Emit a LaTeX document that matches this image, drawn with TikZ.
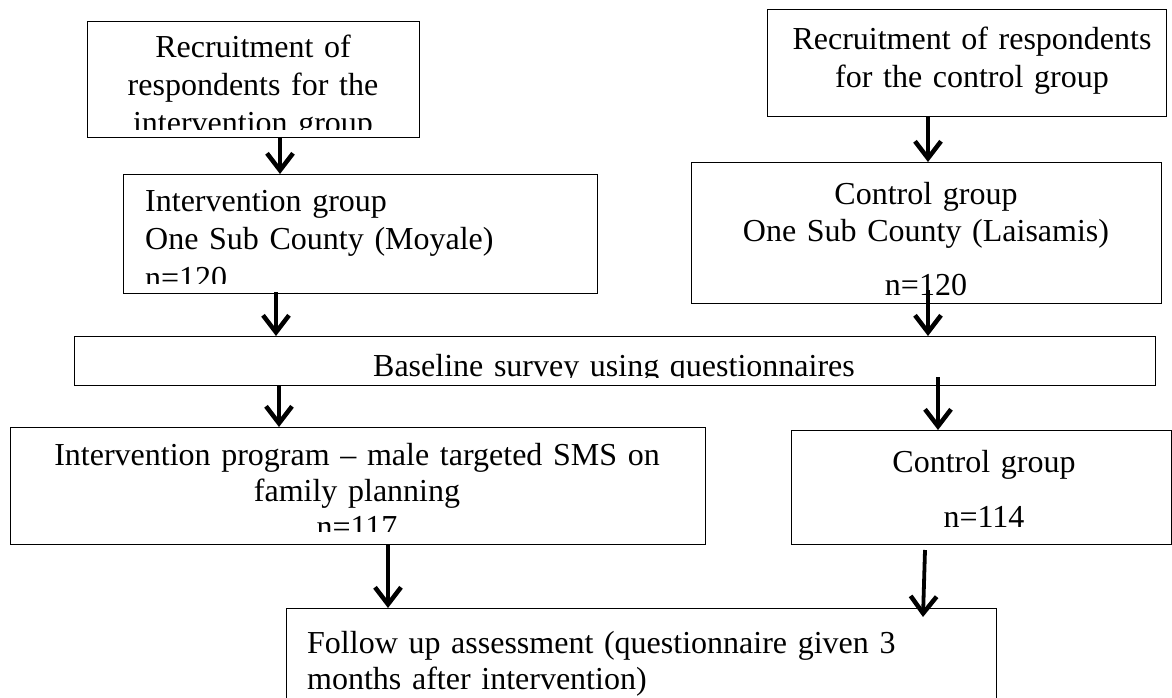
\documentclass[tikz,border=0pt]{standalone}
\usepackage{fontspec}
\setmainfont{Liberation Serif}
\usetikzlibrary{arrows.meta}
\begin{document}
\begin{tikzpicture}[x=1pt,y=-1pt,
  boxst/.style={draw=black, line width=1.3pt, fill=white, inner sep=0pt},
  txt/.style={inner sep=0pt, font=\fontsize{32}{#1}\selectfont},
  arr/.style={line width=3.8pt, -{Straight Barb[length=17pt,width=26pt,line width=4.5pt]}}
]
\useasboundingbox (0,0) rectangle (1172,698);

% boxes
\node[boxst, minimum width=332pt, minimum height=116pt, anchor=north west] (b1) at (87,21) {};
\node[boxst, minimum width=399pt, minimum height=107pt, anchor=north west] (b3) at (767,9) {};
\node[boxst, minimum width=474pt, minimum height=119pt, anchor=north west] (b2) at (123,174) {};
\node[boxst, minimum width=470pt, minimum height=141pt, anchor=north west] (b4) at (691,162) {};
\node[boxst, minimum width=1081pt, minimum height=49pt, anchor=north west] (bs) at (74,336) {};
\node[boxst, minimum width=695pt, minimum height=117pt, anchor=north west] (b5) at (10,427) {};
\node[boxst, minimum width=380pt, minimum height=114pt, anchor=north west] (b6) at (791,430) {};
\node[boxst, minimum width=710pt, minimum height=100pt, anchor=north west] (fu) at (286,608) {};

% texts
\begin{scope}
  \clip (87,21) rectangle (419,130);
  \node[txt=38, text width=330pt, align=center, anchor=base] (t1) at (253,58)
    {Recruitment of\\respondents for the\\intervention group};
\end{scope}
\node[txt=38, text width=400pt, align=center, anchor=base] (t3) at (972,50)
  {Recruitment of respondents\\for the control group};
\begin{scope}
  \clip (123,174) rectangle (597,283);
  \node[txt=38.5, text width=440pt, align=left, anchor=base west] (t2) at (145,211)
    {Intervention group\\One Sub County (Moyale)\\n=120};
\end{scope}
\node[txt=37, text width=460pt, align=center, anchor=base] (t4) at (926,204)
  {Control group\\One Sub County (Laisamis)\\[17pt]n=120};
\begin{scope}
  \clip (74,336) rectangle (1155,377);
  \node[txt=37, text width=1000pt, align=center, anchor=base] (ts) at (614,376)
    {Baseline survey using questionnaires};
\end{scope}
\begin{scope}
  \clip (10,427) rectangle (705,531);
  \node[txt=36, text width=680pt, align=center, anchor=base] (t5) at (357,465)
    {Intervention program -- male targeted SMS on\\family planning\\n=117};
\end{scope}
\node[txt=37, text width=370pt, align=center, anchor=base] (t6) at (984,472)
  {Control group\\[18pt]n=114};
\node[txt=36, text width=680pt, align=left, anchor=base west] (tf) at (307,653)
  {Follow up assessment (questionnaire given 3\\months after intervention)};

% connector ends
\coordinate (s1) at (280,137);
\coordinate (s2) at (928,116);
\coordinate (s3) at (276,292);
\coordinate (s4) at (928,290);
\coordinate (s5) at (279,385);
\coordinate (s6) at (938,377);
\coordinate (s7) at (388,544);
\coordinate (s8) at (925,550);
\coordinate (e8) at (923,617);

\draw[arr] (s1) -- (s1 |- b2.north);
\draw[arr] (s2) -- (s2 |- b4.north);
\draw[arr] (s3) -- (s3 |- bs.north);
\draw[arr] (s4) -- (s4 |- bs.north);
\draw[arr] (s5) -- (s5 |- b5.north);
\draw[arr] (s6) -- (s6 |- b6.north);
\draw[arr] (s7) -- (s7 |- fu.north);
\draw[arr] (s8) -- (e8);
\end{tikzpicture}
\end{document}
